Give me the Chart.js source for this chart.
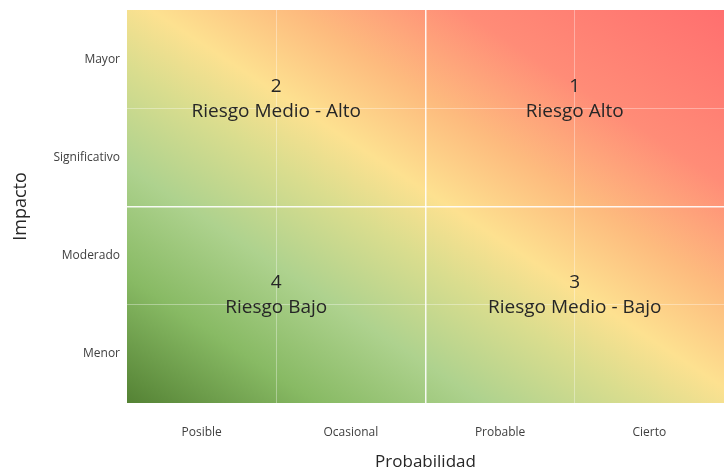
<!DOCTYPE html>
<html>
<head>
<meta charset="utf-8">
<script src="https://cdn.jsdelivr.net/npm/chart.js@4/dist/chart.umd.min.js"></script>
<style>
  html, body { margin: 0; padding: 0; background: #ffffff; }
  #wrap { width: 724px; height: 472px; }
</style>
</head>
<body>
<div id="wrap"><canvas id="c" width="724" height="472"></canvas></div>
<script>
// Axis categories
const probabilidadLabels = ["Posible", "Ocasional", "Probable", "Cierto"];
const impactoLabels = ["Menor", "Moderado", "Significativo", "Mayor"];

// Quadrant anchors (in category-index units) and texts
const quadrantX = [2.5, 0.5, 2.5, 0.5];
const quadrantY = [2.5, 2.5, 0.5, 0.5];
const quadrantNumbers = ["1", "2", "3", "4"];
const quadrantNames = ["Riesgo Alto", "Riesgo Medio - Alto", "Riesgo Medio - Bajo", "Riesgo Bajo"];

// Background gradient stops (bottom-left -> top-right)
const gradientStops = [0, 0.16, 0.3, 0.43, 0.52, 0.64, 0.78, 1];
const gradientColors = ["#548234", "#88ba64", "#aed28e", "#dadd8e", "#fde190", "#fdbb7e", "#ff8c77", "#ff6f6f"];

const FONT = "'Open Sans', 'DejaVu Sans', sans-serif";

const bgPlugin = {
  id: 'bgGradient',
  beforeDraw(chart) {
    const { ctx, chartArea: a } = chart;
    const W = a.right - a.left, H = a.bottom - a.top;
    const cx = (a.left + a.right) / 2, cy = (a.top + a.bottom) / 2;
    const L = Math.sqrt(W * W + H * H);
    const dx = H / L, dy = -W / L;
    const ext = W * H / L;
    const g = ctx.createLinearGradient(cx - dx * ext, cy - dy * ext, cx + dx * ext, cy + dy * ext);
    gradientStops.forEach((s, i) => g.addColorStop(s, gradientColors[i]));
    ctx.save();
    ctx.fillStyle = g;
    ctx.fillRect(a.left, a.top, W, H);
    ctx.restore();
  }
};

const textPlugin = {
  id: 'quadrantText',
  afterDatasetsDraw(chart) {
    const { ctx } = chart;
    const meta = chart.getDatasetMeta(0);
    ctx.save();
    ctx.fillStyle = '#262626';
    ctx.font = "19px " + FONT;
    ctx.textAlign = 'center';
    ctx.textBaseline = 'middle';
    meta.data.forEach((pt, i) => {
      ctx.fillText(quadrantNumbers[i], pt.x, pt.y - 22);
      ctx.fillText(quadrantNames[i], pt.x, pt.y + 3);
    });
    ctx.restore();
  }
};

function gridColor(ctx) {
  if (ctx.index === 2) return 'rgba(255,255,255,0.9)';
  if (ctx.index === 1 || ctx.index === 3) return 'rgba(255,255,255,0.35)';
  return 'rgba(255,255,255,0)';
}
function gridWidth(ctx) {
  return ctx.index === 2 ? 1.5 : 1;
}

new Chart(document.getElementById('c'), {
  type: 'scatter',
  data: {
    datasets: [{
      data: quadrantX.map((x, i) => ({ x: x, y: quadrantY[i] })),
      pointRadius: 0,
      pointHoverRadius: 0,
      showLine: false
    }]
  },
  plugins: [bgPlugin, textPlugin],
  options: {
    responsive: false,
    animation: false,
    events: [],
    layout: { padding: { top: 10, right: 0, left: 0, bottom: 0 } },
    plugins: { legend: { display: false }, tooltip: { enabled: false } },
    scales: {
      x: {
        type: 'linear',
        min: -0.5,
        max: 3.5,
        afterBuildTicks(scale) {
          scale.ticks = probabilidadLabels.map((_, i) => ({ value: i }));
        },
        afterFit(scale) { scale.height = 69; scale.paddingLeft = 0; scale.paddingRight = 0; },
        border: { display: false },
        grid: { offset: true, drawTicks: false, color: gridColor, lineWidth: gridWidth },
        ticks: {
          autoSkip: false,
          maxRotation: 0,
          padding: 22,
          color: '#404040',
          font: { family: FONT, size: 12 },
          callback: (v) => probabilidadLabels[Math.round(v)]
        },
        title: {
          display: true,
          text: 'Probabilidad',
          color: '#262626',
          font: { family: FONT, size: 17 },
          padding: { top: 0, bottom: 0 }
        }
      },
      y: {
        type: 'linear',
        min: -0.5,
        max: 3.5,
        afterBuildTicks(scale) {
          scale.ticks = impactoLabels.map((_, i) => ({ value: i }));
        },
        afterFit(scale) { scale.width = 127; scale.paddingTop = 0; scale.paddingBottom = 0; },
        border: { display: false },
        grid: { offset: true, drawTicks: false, color: gridColor, lineWidth: gridWidth },
        ticks: {
          autoSkip: false,
          padding: 7,
          color: '#404040',
          font: { family: FONT, size: 12 },
          callback: (v) => impactoLabels[Math.round(v)]
        },
        title: {
          display: true,
          text: 'Impacto',
          color: '#262626',
          font: { family: FONT, size: 18 },
          padding: { top: 10, bottom: 0 }
        }
      }
    }
  }
});
</script>
</body>
</html>
